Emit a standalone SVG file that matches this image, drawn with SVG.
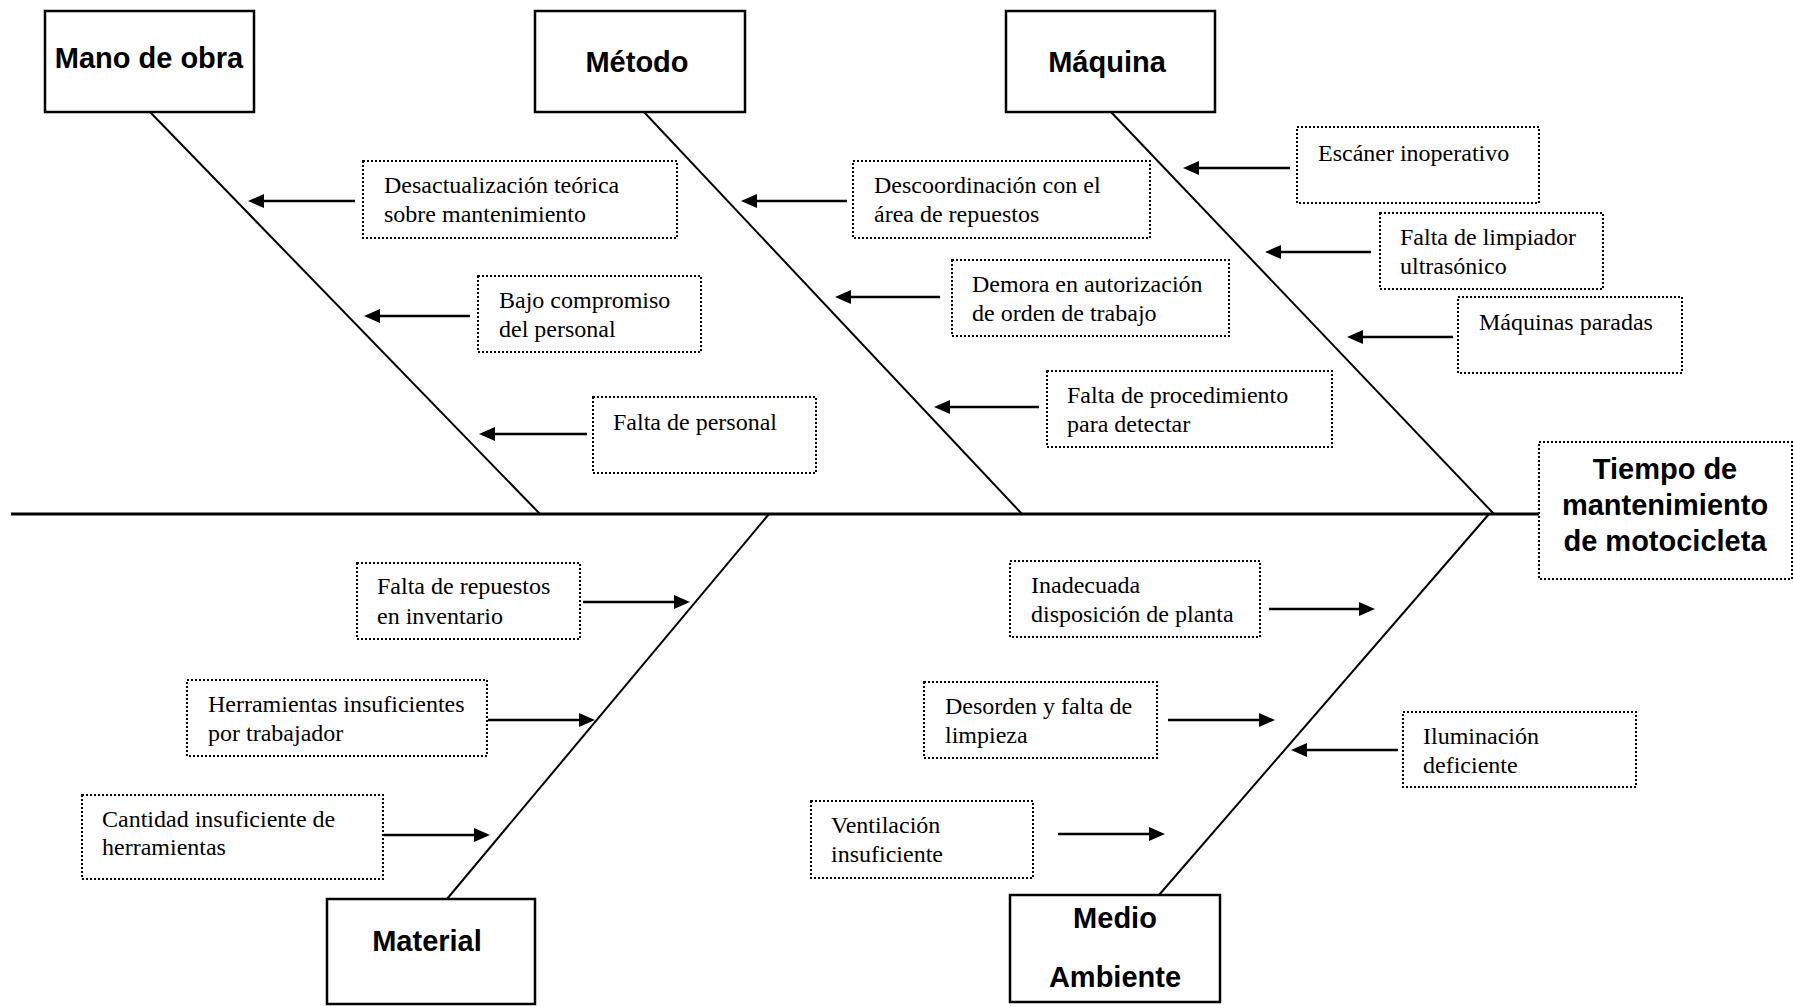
<svg xmlns="http://www.w3.org/2000/svg" width="1794" height="1006" viewBox="0 0 1794 1006">
  <style>
    .cat { fill: #fff; stroke: #000; stroke-width: 2.5; }
    .cause { fill: #fff; stroke: #000; stroke-width: 2; stroke-dasharray: 2 2; }
    .bone { stroke: #000; stroke-width: 2; fill: none; }
    .spine { stroke: #000; stroke-width: 2.8; fill: none; }
    .arr { stroke: #000; stroke-width: 2.5; fill: none; marker-end: url(#head); }
    .title { font-family: "Liberation Sans", Arial, sans-serif; font-weight: bold; font-size: 29px; fill: #000; text-anchor: middle; }
    .txt { font-family: "Liberation Serif", "Times New Roman", serif; font-size: 24px; fill: #000; }
  </style>
  <defs>
    <marker id="head" markerUnits="userSpaceOnUse" markerWidth="17" markerHeight="15" refX="6" refY="7" orient="auto">
      <path d="M0,0 L16,7 L0,14 Z" fill="#000"/>
    </marker>
  </defs>
  <rect width="1794" height="1006" fill="#fff"/>

  <!-- spine and category bones -->
  <g id="connectors">
    <line class="spine" x1="11" y1="514" x2="1539" y2="514"/>
    <line class="bone" x1="150" y1="112" x2="540" y2="514"/>
    <line class="bone" x1="644" y1="112" x2="1022" y2="514"/>
    <line class="bone" x1="1111" y1="112" x2="1494" y2="514"/>
    <line class="bone" x1="769" y1="514" x2="447" y2="899"/>
    <line class="bone" x1="1489" y1="514" x2="1159" y2="895"/>

    <!-- cause arrows -->
    <line class="arr" x1="355" y1="201" x2="258" y2="201"/>
    <line class="arr" x1="470" y1="316" x2="374" y2="316"/>
    <line class="arr" x1="587" y1="434" x2="489" y2="434"/>
    <line class="arr" x1="847" y1="201" x2="751" y2="201"/>
    <line class="arr" x1="940" y1="297" x2="845" y2="297"/>
    <line class="arr" x1="1039" y1="407" x2="944" y2="407"/>
    <line class="arr" x1="1290" y1="168" x2="1193" y2="168"/>
    <line class="arr" x1="1371" y1="252" x2="1275" y2="252"/>
    <line class="arr" x1="1453" y1="337" x2="1357" y2="337"/>
    <line class="arr" x1="583" y1="602" x2="680" y2="602"/>
    <line class="arr" x1="488" y1="720" x2="585" y2="720"/>
    <line class="arr" x1="384" y1="835" x2="480" y2="835"/>
    <line class="arr" x1="1269" y1="609" x2="1365" y2="609"/>
    <line class="arr" x1="1168" y1="720" x2="1265" y2="720"/>
    <line class="arr" x1="1398" y1="750" x2="1301" y2="750"/>
    <line class="arr" x1="1058" y1="834" x2="1155" y2="834"/>
  </g>

  <!-- category boxes -->
  <g id="mano-de-obra">
    <rect class="cat" x="45" y="11" width="209" height="101"/>
    <text class="title" x="149" y="68">Mano de obra</text>
  </g>
  <g id="metodo">
    <rect class="cat" x="535" y="11" width="210" height="101"/>
    <text class="title" x="637" y="72">Método</text>
  </g>
  <g id="maquina">
    <rect class="cat" x="1006" y="11" width="209" height="101"/>
    <text class="title" x="1107" y="72">Máquina</text>
  </g>
  <g id="material">
    <rect class="cat" x="327" y="899" width="208" height="105"/>
    <text class="title" x="427" y="951">Material</text>
  </g>
  <g id="medio-ambiente">
    <rect class="cat" x="1010" y="895" width="210" height="107"/>
    <text class="title" x="1115" y="928">Medio</text>
    <text class="title" x="1115" y="987">Ambiente</text>
  </g>

  <!-- effect -->
  <g id="efecto">
    <rect class="cause" x="1539" y="442" width="253" height="137"/>
    <text class="title" x="1665" y="479">Tiempo de</text>
    <text class="title" x="1665" y="515">mantenimiento</text>
    <text class="title" x="1665" y="551">de motocicleta</text>
  </g>

  <!-- causes: Mano de obra -->
  <g id="c-desactualizacion">
    <rect class="cause" x="363" y="161" width="314" height="77"/>
    <text class="txt" x="384" y="193">Desactualización teórica</text>
    <text class="txt" x="384" y="222">sobre mantenimiento</text>
  </g>
  <g id="c-bajo-compromiso">
    <rect class="cause" x="478" y="276" width="223" height="76"/>
    <text class="txt" x="499" y="308">Bajo compromiso</text>
    <text class="txt" x="499" y="337">del personal</text>
  </g>
  <g id="c-falta-personal">
    <rect class="cause" x="593" y="397" width="223" height="76"/>
    <text class="txt" x="613" y="430">Falta de personal</text>
  </g>

  <!-- causes: Método -->
  <g id="c-descoordinacion">
    <rect class="cause" x="853" y="161" width="297" height="77"/>
    <text class="txt" x="874" y="193">Descoordinación con el</text>
    <text class="txt" x="874" y="222">área de repuestos</text>
  </g>
  <g id="c-demora">
    <rect class="cause" x="952" y="260" width="277" height="76"/>
    <text class="txt" x="972" y="292">Demora en autorización</text>
    <text class="txt" x="972" y="321">de orden de trabajo</text>
  </g>
  <g id="c-procedimiento">
    <rect class="cause" x="1047" y="371" width="285" height="76"/>
    <text class="txt" x="1067" y="403">Falta de procedimiento</text>
    <text class="txt" x="1067" y="432">para detectar</text>
  </g>

  <!-- causes: Máquina -->
  <g id="c-escaner">
    <rect class="cause" x="1297" y="127" width="242" height="76"/>
    <text class="txt" x="1318" y="161">Escáner inoperativo</text>
  </g>
  <g id="c-limpiador">
    <rect class="cause" x="1380" y="213" width="223" height="76"/>
    <text class="txt" x="1400" y="245">Falta de limpiador</text>
    <text class="txt" x="1400" y="274">ultrasónico</text>
  </g>
  <g id="c-maquinas-paradas">
    <rect class="cause" x="1458" y="297" width="224" height="76"/>
    <text class="txt" x="1479" y="330">Máquinas paradas</text>
  </g>

  <!-- causes: Material -->
  <g id="c-repuestos">
    <rect class="cause" x="357" y="563" width="223" height="76"/>
    <text class="txt" x="377" y="594">Falta de repuestos</text>
    <text class="txt" x="377" y="624">en inventario</text>
  </g>
  <g id="c-herramientas">
    <rect class="cause" x="187" y="680" width="300" height="76"/>
    <text class="txt" x="208" y="712">Herramientas insuficientes</text>
    <text class="txt" x="208" y="741">por trabajador</text>
  </g>
  <g id="c-cantidad">
    <rect class="cause" x="82" y="795" width="301" height="84"/>
    <text class="txt" x="102" y="827">Cantidad insuficiente de</text>
    <text class="txt" x="102" y="855">herramientas</text>
  </g>

  <!-- causes: Medio Ambiente -->
  <g id="c-disposicion">
    <rect class="cause" x="1010" y="561" width="250" height="76"/>
    <text class="txt" x="1031" y="593">Inadecuada</text>
    <text class="txt" x="1031" y="622">disposición de planta</text>
  </g>
  <g id="c-desorden">
    <rect class="cause" x="924" y="682" width="233" height="76"/>
    <text class="txt" x="945" y="714">Desorden y falta de</text>
    <text class="txt" x="945" y="743">limpieza</text>
  </g>
  <g id="c-iluminacion">
    <rect class="cause" x="1403" y="712" width="233" height="75"/>
    <text class="txt" x="1423" y="744">Iluminación</text>
    <text class="txt" x="1423" y="773">deficiente</text>
  </g>
  <g id="c-ventilacion">
    <rect class="cause" x="811" y="801" width="222" height="77"/>
    <text class="txt" x="831" y="833">Ventilación</text>
    <text class="txt" x="831" y="862">insuficiente</text>
  </g>
</svg>
